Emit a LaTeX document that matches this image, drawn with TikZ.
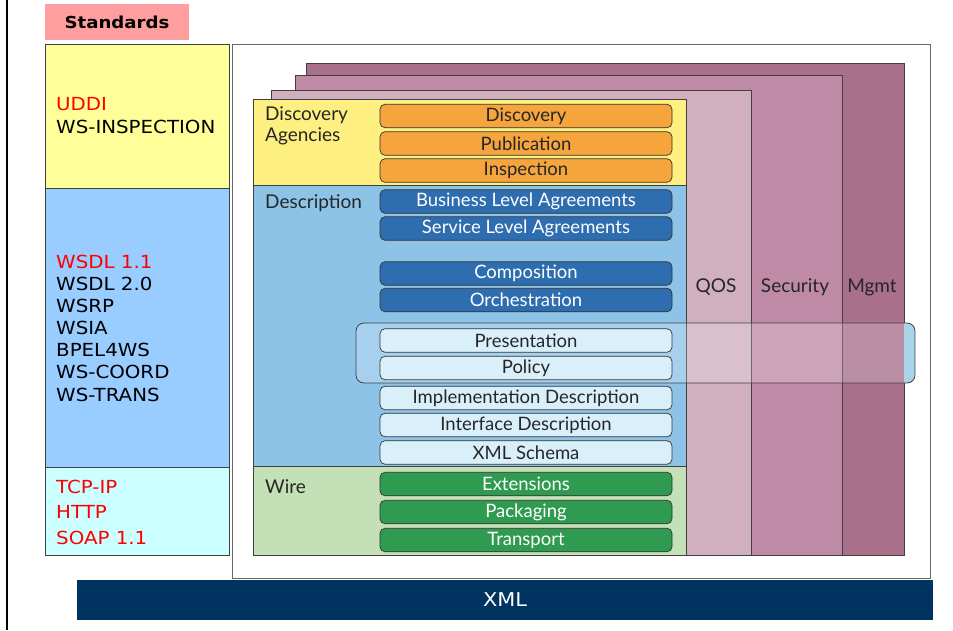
\documentclass[tikz,border=0pt]{standalone}
\usepackage{fontspec}
\setmainfont{Lato}
\newfontfamily\stdfont[FakeStretch=1.1]{DejaVu Sans}
\begin{document}
\begin{tikzpicture}[x=1pt,y=-1pt,
  stdtxt/.style={font=\stdfont\fontsize{18}{20}\selectfont, anchor=west, inner sep=0},
  redtxt/.style={stdtxt, text=red},
  blktxt/.style={stdtxt, text=black},
  pill/.style={draw=black!80, line width=0.7pt, rounded corners=5pt,
    minimum width=292pt, minimum height=23.5pt, inner sep=0,
    font=\fontsize{18.5}{20}\selectfont},
  orangepill/.style={pill, fill=pillorange, text=black!85},
  bluepill/.style={pill, fill=pillblue, text=white},
  lightpill/.style={pill, fill=pilllight, text=black!85},
  greenpill/.style={pill, fill=pillgreen, text=white},
  layerlbl/.style={font=\fontsize{19}{21}\selectfont, text=black!85, inner sep=0},
  box/.style={draw=black!75, line width=0.8pt}
]
\definecolor{stdpink}{HTML}{FF9E9E}
\definecolor{stdyellow}{HTML}{FFFF99}
\definecolor{stdblue}{HTML}{99CCFF}
\definecolor{stdcyan}{HTML}{CCFFFF}
\definecolor{dayellow}{HTML}{FDEF80}
\definecolor{descblue}{HTML}{8EC3E8}
\definecolor{wiregreen}{HTML}{C4E0B6}
\definecolor{pillorange}{HTML}{F6A43C}
\definecolor{pillblue}{HTML}{2E6DAF}
\definecolor{pilllight}{HTML}{D9F0FB}
\definecolor{pillgreen}{HTML}{2F9B50}
\definecolor{qos}{HTML}{D0AFBF}
\definecolor{security}{HTML}{BF8AA6}
\definecolor{mgmt}{HTML}{A8708A}
\definecolor{xmlnavy}{HTML}{00335F}
\definecolor{bandblue}{HTML}{A8D4EA}

\path[use as bounding box, fill=white] (0,0) rectangle (953,630);

% left rule
\draw[line width=2pt] (7,0) -- (7,630);

% standards column
\node[fill=stdpink, minimum width=144pt, minimum height=36pt, inner sep=0,
  font=\stdfont\bfseries\fontsize{16.5}{20}\selectfont] (stdhead) at (117,22) {Standards};
\filldraw[box, fill=stdyellow] (45,44) rectangle (229,188);
\filldraw[box, fill=stdblue] (45,188) rectangle (229,467);
\filldraw[box, fill=stdcyan] (45,467) rectangle (229,555);

\node[redtxt] (uddi) at (56,104) {UDDI};
\node[blktxt] (wsinsp) at (56,127) {WS-INSPECTION};
\node[redtxt] (wsdl11) at (56,262) {WSDL 1.1};
\node[blktxt] (wsdl20) at (56,284) {WSDL 2.0};
\node[blktxt] (wsrp) at (56,306) {WSRP};
\node[blktxt] (wsia) at (56,328) {WSIA};
\node[blktxt] (bpel) at (56,350) {BPEL4WS};
\node[blktxt] (wscoord) at (56,372) {WS-COORD};
\node[blktxt] (wstrans) at (56,395) {WS-TRANS};
\node[redtxt] (tcpip) at (56,487) {TCP-IP};
\node[redtxt] (http) at (56,512) {HTTP};
\node[redtxt] (soap) at (56,538) {SOAP 1.1};

% stack frame
\draw[draw=black!60, line width=0.8pt, fill=white] (232,44) rectangle (930,578);

% XML base bar
\node[fill=xmlnavy, minimum width=856pt, minimum height=40pt, inner sep=0,
  text=white, font=\stdfont\fontsize{19}{20}\selectfont] (xml) at (505,600) {XML};

% vertical cross-cutting layers
\filldraw[box, fill=mgmt] (306,63) rectangle (904,555);
\filldraw[box, fill=security] (295,75) rectangle (842,555);
\filldraw[box, fill=qos] (271,90) rectangle (751,555);

% horizontal layers
\filldraw[box, fill=dayellow] (253,99) rectangle (686,185);
\filldraw[box, fill=descblue] (253,185) rectangle (686,466);
\filldraw[box, fill=wiregreen] (253,466) rectangle (686,555);

\node[layerlbl, align=left, anchor=north west] (dalbl) at (265,106) {Discovery\\Agencies};
\node[layerlbl, anchor=west] (desclbl) at (265,203) {Description};
\node[layerlbl, anchor=west] (wirelbl) at (265,487) {Wire};

\node[layerlbl] (qoslbl) at (716,287) {QOS};
\node[layerlbl] (seclbl) at (795,287) {Security};
\node[layerlbl] (mgmtlbl) at (872,287) {Mgmt};

% band around presentation and policy
\begin{scope}
  \clip[rounded corners=8pt] (356,323) rectangle (915,383);
  \fill[white, opacity=0.22] (356,323) rectangle (904,383);
  \fill[bandblue] (904,323) rectangle (915,383);
\end{scope}
\draw[draw=black!75, line width=0.8pt, rounded corners=8pt] (356,323) rectangle (915,383);

% discovery pills
\node[orangepill] (discovery) at (526,116) {Discovery};
\node[orangepill] (publication) at (526,143.5) {Publication};
\node[orangepill] (inspection) at (526,170.5) {Inspection};

% description pills
\node[bluepill] (bla) at (526,201.5) {Business Level Agreements};
\node[bluepill] (sla) at (526,228.5) {Service Level Agreements};
\node[bluepill] (composition) at (526,273.5) {Composition};
\node[bluepill] (orchestration) at (526,300) {Orchestration};
\node[lightpill] (presentation) at (526,340.5) {Presentation};
\node[lightpill] (policy) at (526,368) {Policy};
\node[lightpill] (impldesc) at (526,398) {Implementation Description};
\node[lightpill] (ifdesc) at (526,425) {Interface Description};
\node[lightpill] (xmlschema) at (526,452.5) {XML Schema};

% wire pills
\node[greenpill] (extensions) at (526,484) {Extensions};
\node[greenpill] (packaging) at (526,512) {Packaging};
\node[greenpill] (transport) at (526,540) {Transport};
\end{tikzpicture}
\end{document}
